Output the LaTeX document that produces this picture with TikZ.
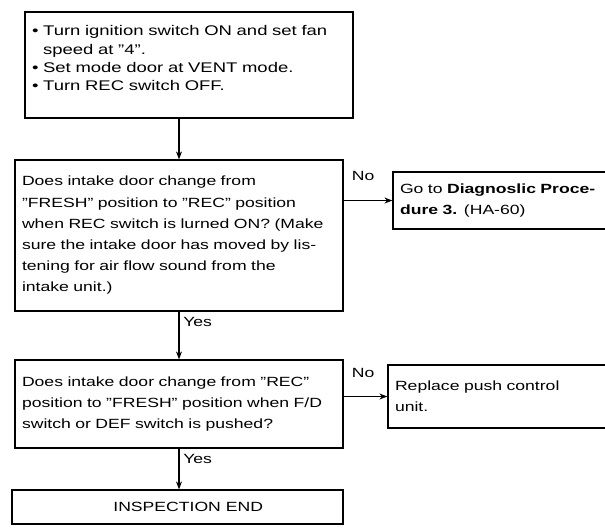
\documentclass[tikz,border=0pt]{standalone}
\usepackage{fontspec}
\setmainfont{Liberation Sans}[FakeStretch=1.32]
\usetikzlibrary{arrows.meta}
\tikzset{
  stepbox/.style={draw,line width=0.9pt,inner xsep=5.25pt,inner ysep=0pt,
    align=left,font=\fontsize{10}{15.9}\selectfont},
  flow/.style={line width=0.8pt,-{Stealth[length=6pt,width=4.5pt]}},
  tag/.style={font=\fontsize{10}{11}\selectfont,inner sep=1pt}
}
\newcommand{\bul}{\textbullet\ }
\newcommand{\bulgap}{\phantom{\textbullet\ }}

\begin{document}
\begin{tikzpicture}[x=0.75pt,y=-0.75pt]
  % --- page ---
  \fill[white] (0,0) rectangle (605,529);
  \useasboundingbox (0,0) rectangle (605,529);
  \clip (0,0) rectangle (605,529);

  % --- main column ---
  \node[stepbox,text width=235.5pt,minimum height=79.5pt,text depth=51.5pt,
    font=\fontsize{10.5}{13.7}\selectfont] (prep) at (189,65)
    {\bul Turn ignition switch ON and set fan\\
     \bulgap speed at ''4''.\\
     \bul Set mode door at VENT mode.\\
     \bul Turn REC switch OFF.};

  \node[stepbox,text width=235.5pt,minimum height=113.25pt] (check1) at (179,235.5)
    {Does intake door change from\\
     ''FRESH'' position to ''REC'' position\\
     when REC switch is lurned ON? (Make\\
     sure the intake door has moved by lis-\\
     tening for air flow sound from the\\
     intake unit.)};

  \node[stepbox,text width=235.5pt,minimum height=66pt] (check2) at (179,404)
    {Does intake door change from ''REC''\\
     position to ''FRESH'' position when F/D\\
     switch or DEF switch is pushed?};

  \node[stepbox,align=center,minimum width=248.25pt,minimum height=25.5pt] (finish) at (177.5,507)
    {\hspace*{16pt}INSPECTION END};

  % --- side boxes (cut off at the right edge) ---
  \node[stepbox,text width=174.75pt,minimum height=42.75pt] (diag) at (516.5,200.5)
    {Go to \textbf{Diagnoslic Proce-}\\
     \textbf{dure 3.} (HA-60)};

  \node[stepbox,text width=178.5pt,minimum height=47.25pt] (replace) at (514,396.5)
    {Replace push control\\
     unit.};

  % --- connectors ---
  \draw[flow] (prep.south -| check1.north) -- (check1.north);
  \draw[flow] (check1.south) -- (check2.north);
  \draw[flow] (check2.south) -- (check2.south |- finish.north);
  \draw[flow] (check1.east |- diag.west) -- (diag.west);
  \draw[flow] (check2.east |- replace.west) -- (replace.west);

  % --- labels ---
  \node[tag,anchor=north west] (yes1) at ([xshift=2pt,yshift=-3pt]check1.south) {Yes};
  \node[tag,anchor=north west] (yes2) at ([xshift=2pt,yshift=-3pt]check2.south) {Yes};
  \node[tag,anchor=south west] (no1) at ([xshift=5pt,yshift=14pt]check1.east |- diag.west) {No};
  \node[tag,anchor=south west] (no2) at ([xshift=5pt,yshift=13pt]check2.east |- replace.west) {No};
\end{tikzpicture}
\end{document}
